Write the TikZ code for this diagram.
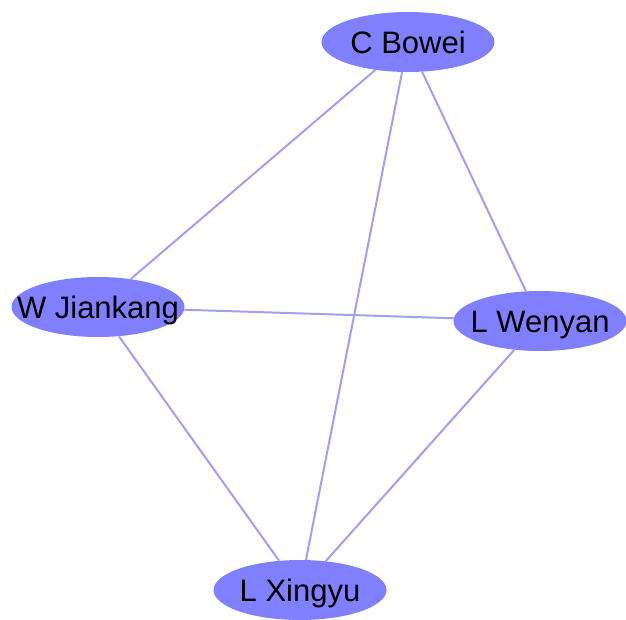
\documentclass[tikz,border=0pt]{standalone}
\usepackage{fontspec}
\setmainfont{Liberation Sans}
\usepackage{tikz}
\usepackage{xcolor}
\usetikzlibrary{shapes.geometric}

\definecolor{nodeblue}{HTML}{8080FF}
\definecolor{edgeblue}{HTML}{A0A0F0}

\begin{document}
\begin{tikzpicture}[x=1pt,y=-1pt]
\tikzstyle{person}=[ellipse,fill=nodeblue,inner sep=0pt,minimum width=173pt,minimum height=60pt,text height=22.5pt,text depth=0pt,font=\fontsize{31}{31}\selectfont]
\tikzstyle{link}=[draw=edgeblue,line width=2pt]

\useasboundingbox (0,0) rectangle (626,620);

\node[person](Bowei) at (408,42){\makebox[0pt]{C Bowei}};
\node[person](Jiankang) at (98,307){\makebox[0pt]{W Jiankang}};
\node[person](Wenyan) at (540,321){\makebox[0pt]{L Wenyan}};
\node[person](Xingyu) at (300,590){\makebox[0pt]{L Xingyu}};
\draw[link] (Bowei) -- (Jiankang);
\draw[link] (Bowei) -- (Wenyan);
\draw[link] (Bowei) -- (Xingyu);
\draw[link] (Jiankang) -- (Wenyan);
\draw[link] (Jiankang) -- (Xingyu);
\draw[link] (Wenyan) -- (Xingyu);

\end{tikzpicture}
\end{document}
